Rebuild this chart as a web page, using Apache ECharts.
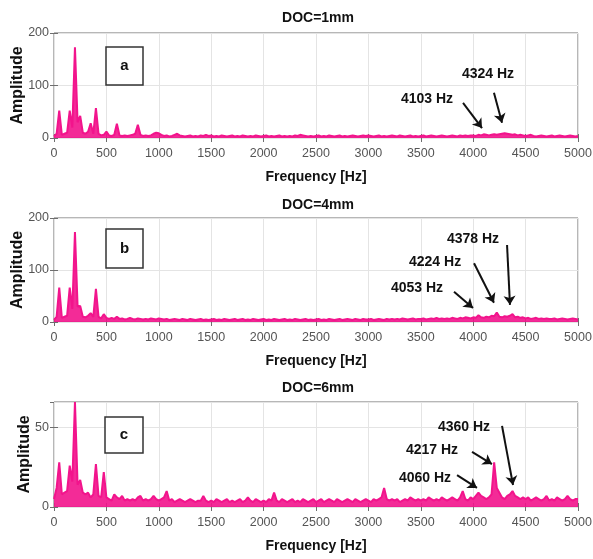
<!DOCTYPE html>
<html>
<head>
<meta charset="utf-8">
<script src="https://cdn.jsdelivr.net/npm/echarts@6/dist/echarts.min.js"></script>
<style>
html,body{margin:0;padding:0;background:#fff;}
#chart{width:593px;height:559px;}
</style>
</head>
<body>
<div id="chart"></div>
<script>
// ---------- DATA ----------
const titles = ['DOC=1mm', 'DOC=4mm', 'DOC=6mm'];
const panelLetters = ['a', 'b', 'c'];
const xTicks = { min: 0, max: 5000, interval: 500 };
const FREQ_STEP = 25; // spectrum bin spacing, Hz (bins 0..5000)

// Amplitude per 25 Hz bin, DOC=1mm (0, 25, 50, ... 5000 Hz)
const ampA = [
  3, 8, 52, 6, 8, 10, 52, 20, 173, 30,
  42, 10, 8, 12, 28, 8, 57, 8, 5, 6,
  12, 5, 4, 6, 27, 5, 4, 5, 4, 5,
  6, 8, 25, 6, 4, 5, 4, 5, 8, 10,
  9, 6, 4, 5, 3, 4, 6, 8, 5, 4,
  3, 4, 5, 3, 4, 3, 5, 4, 6, 4,
  5, 3, 4, 3, 5, 4, 3, 4, 5, 3,
  4, 3, 5, 4, 3, 4, 3, 5, 4, 3,
  4, 5, 3, 4, 3, 4, 5, 3, 4, 3,
  4, 3, 5, 4, 6, 5, 4, 3, 4, 3,
  4, 5, 3, 4, 3, 5, 4, 3, 4, 5,
  3, 4, 3, 4, 5, 4, 3, 4, 5, 4,
  5, 4, 3, 4, 5, 3, 4, 3, 4, 5,
  4, 3, 5, 4, 3, 4, 5, 3, 4, 3,
  4, 5, 3, 4, 5, 4, 3, 4, 5, 4,
  3, 4, 5, 4, 3, 5, 4, 5, 4, 5,
  5, 4, 6, 5, 7, 6, 5, 6, 7, 6,
  7, 8, 9, 8, 7, 6, 7, 5, 6, 5,
  4, 5, 6, 4, 3, 4, 5, 4, 3, 4,
  5, 3, 4, 5, 4, 3, 4, 5, 4, 3,
  4
];

// DOC=4mm
const ampB = [
  4, 10, 66, 8, 10, 12, 66, 25, 173, 30,
  31, 10, 9, 12, 17, 10, 64, 10, 7, 15,
  8, 6, 8, 6, 10, 6, 7, 5, 6, 8,
  6, 5, 7, 6, 5, 6, 5, 7, 6, 5,
  7, 6, 5, 6, 4, 5, 6, 5, 4, 6,
  5, 4, 6, 5, 4, 5, 6, 4, 5, 4,
  5, 6, 4, 5, 4, 6, 5, 4, 5, 6,
  4, 5, 6, 4, 5, 4, 6, 5, 4, 5,
  6, 4, 5, 4, 6, 5, 4, 5, 6, 4,
  5, 4, 6, 5, 4, 5, 6, 4, 5, 4,
  5, 6, 4, 5, 4, 6, 5, 4, 5, 6,
  4, 5, 6, 5, 4, 6, 5, 4, 6, 5,
  5, 6, 4, 5, 6, 5, 4, 6, 5, 6,
  5, 6, 5, 7, 6, 5, 6, 7, 5, 6,
  6, 7, 5, 6, 7, 6, 8, 6, 7, 6,
  7, 6, 8, 7, 6, 8, 7, 9, 8, 7,
  9, 8, 13, 9, 8, 10, 9, 12, 11, 18,
  10, 9, 11, 10, 12, 15, 9, 10, 8, 9,
  7, 8, 6, 7, 8, 6, 7, 6, 7, 6,
  6, 7, 5, 6, 7, 6, 5, 6, 7, 6,
  5
];

// DOC=6mm
const ampC = [
  5, 12, 28, 8, 9, 10, 26, 16, 66, 14,
  17, 9, 8, 9, 6, 8, 27, 7, 6, 22,
  6, 5, 4, 8, 6, 5, 7, 4, 5, 4,
  5, 4, 6, 7, 4, 5, 4, 5, 7, 5,
  4, 5, 6, 10, 4, 5, 3, 4, 5, 4,
  3, 4, 5, 4, 3, 4, 4, 7, 4, 3,
  4, 3, 5, 4, 3, 4, 5, 3, 4, 3,
  4, 5, 3, 4, 6, 4, 3, 5, 4, 3,
  4, 3, 5, 4, 9, 4, 3, 5, 4, 3,
  4, 5, 3, 4, 3, 5, 4, 3, 4, 5,
  3, 4, 5, 3, 4, 5, 4, 3, 5, 4,
  3, 4, 5, 4, 3, 5, 4, 3, 4, 5,
  4, 3, 5, 4, 5, 6, 12, 5, 4, 5,
  4, 5, 3, 4, 5, 4, 6, 5, 4, 5,
  4, 5, 4, 6, 5, 4, 5, 4, 6, 5,
  4, 5, 6, 5, 4, 6, 10, 5, 4, 6,
  5, 7, 9, 7, 6, 5, 6, 8, 28, 12,
  9, 6, 5, 7, 8, 10, 7, 6, 5, 6,
  5, 6, 4, 5, 6, 5, 4, 5, 7, 4,
  5, 4, 6, 5, 4, 5, 7, 5, 4, 5,
  5
];

const yAxisA = { max: 200, interval: 100 };
const yAxisB = { max: 200, interval: 100 };
const yAxisC = { max: 66, interval: 50 };

// Annotations (data coordinates): label position, arrow start, arrow tip
const notesA = [
  { text: '4324 Hz', at: [4141, 122], from: [4198, 86], to: [4275, 29] },
  { text: '4103 Hz', at: [3559, 74], from: [3903, 67], to: [4084, 19] }
];
const notesB = [
  { text: '4378 Hz', at: [3998, 160], from: [4323, 148], to: [4351, 33] },
  { text: '4224 Hz', at: [3636, 115], from: [4008, 113], to: [4198, 37] },
  { text: '4053 Hz', at: [3464, 65], from: [3817, 58], to: [3998, 27] }
];
const notesC = [
  { text: '4360 Hz', at: [3912, 50.3], from: [4275, 51], to: [4380, 13.8] },
  { text: '4217 Hz', at: [3607, 35.8], from: [3989, 34.6], to: [4179, 27] },
  { text: '4060 Hz', at: [3540, 18.2], from: [3846, 20], to: [4036, 12] }
];

// ---------- LAYOUT / STYLE ----------
const FONT = '"Liberation Sans", Arial, Helvetica, sans-serif';
const LINE_COLOR = '#f2148c';
const GRID_LEFT = 54, GRID_WIDTH = 524;
const layout = [
  { top: 33, height: 105, titleTop: 11, box: [106, 47, 37, 38], yNameGap: 28 },
  { top: 218, height: 104, titleTop: 198, box: [106, 229, 37, 39], yNameGap: 28 },
  { top: 402, height: 105, titleTop: 381, box: [105, 417, 38, 36], yNameGap: 21 }
];

const panels = [
  { amp: ampA, y: yAxisA, notes: notesA },
  { amp: ampB, y: yAxisB, notes: notesB },
  { amp: ampC, y: yAxisC, notes: notesC }
];

const plain = v => String(v);
const grids = [], xAxes = [], yAxes = [], series = [], titleOpts = [], graphics = [];

panels.forEach((p, i) => {
  const L = layout[i];
  grids.push({
    left: GRID_LEFT, top: L.top, width: GRID_WIDTH, height: L.height,
    containLabel: false, outerBoundsMode: 'none',
    show: true, borderColor: '#6e6e6e', borderWidth: 1, backgroundColor: '#fff'
  });
  // bottom x axis
  xAxes.push({
    gridIndex: i, type: 'value', position: 'bottom',
    min: xTicks.min, max: xTicks.max, interval: xTicks.interval,
    name: 'Frequency [Hz]', nameLocation: 'middle', nameGap: 32, nameMoveOverlap: false,
    nameTextStyle: { fontFamily: FONT, fontWeight: 'bold', fontSize: 14, color: '#111' },
    axisLine: { show: false },
    axisTick: { show: true, inside: true, length: 4, lineStyle: { color: '#6e6e6e' } },
    axisLabel: { fontFamily: FONT, fontSize: 12.5, color: '#555', margin: 9, formatter: plain },
    splitLine: { show: true, lineStyle: { color: '#e4e4e4', width: 1 } }
  });
  // top x axis (ticks only)
  xAxes.push({
    gridIndex: i, type: 'value', position: 'top',
    min: xTicks.min, max: xTicks.max, interval: xTicks.interval,
    axisLine: { show: false },
    axisTick: { show: true, inside: true, length: 4, lineStyle: { color: '#6e6e6e' } },
    axisLabel: { show: false }, splitLine: { show: false }
  });
  yAxes.push({
    gridIndex: i, type: 'value', position: 'left',
    min: 0, max: p.y.max, interval: p.y.interval,
    name: 'Amplitude', nameLocation: 'middle', nameGap: L.yNameGap, nameMoveOverlap: false,
    nameTextStyle: { fontFamily: FONT, fontWeight: 'bold', fontSize: 16, color: '#111' },
    axisLine: { show: false },
    axisTick: { show: true, inside: true, length: 4, lineStyle: { color: '#6e6e6e' } },
    axisLabel: { fontFamily: FONT, fontSize: 12.5, color: '#555', margin: 5, formatter: plain,
                 showMaxLabel: p.y.max % p.y.interval === 0 },
    splitLine: { show: true, lineStyle: { color: '#e4e4e4', width: 1 } }
  });
  yAxes.push({
    gridIndex: i, type: 'value', position: 'right',
    min: 0, max: p.y.max, interval: p.y.interval,
    axisLine: { show: false },
    axisTick: { show: true, inside: true, length: 4, lineStyle: { color: '#6e6e6e' } },
    axisLabel: { show: false }, splitLine: { show: false }
  });

  const data = p.amp.map((a, k) => [k * FREQ_STEP, a]);
  series.push({
    type: 'line', xAxisIndex: 2 * i, yAxisIndex: 2 * i,
    data: data, showSymbol: false, symbol: 'none', sampling: false,
    lineStyle: { color: LINE_COLOR, width: 2 },
    areaStyle: { color: LINE_COLOR, opacity: 0.9 },
    itemStyle: { color: LINE_COLOR },
    silent: true, animation: false, clip: true,
    markLine: {
      silent: true, animation: false,
      symbol: ['none', 'arrow'], symbolSize: 9,
      label: { show: false },
      lineStyle: { color: '#111', width: 2, type: 'solid' },
      emphasis: { disabled: true },
      data: p.notes.map(n => [{ coord: n.from }, { coord: n.to }])
    },
    markPoint: {
      silent: true, animation: false,
      symbol: 'circle', symbolSize: 0,
      itemStyle: { color: 'rgba(0,0,0,0)' },
      label: {
        show: true, position: 'inside', formatter: '{b}',
        fontFamily: FONT, fontWeight: 'bold', fontSize: 14, color: '#111'
      },
      data: p.notes.map(n => ({ name: n.text, coord: n.at }))
    }
  });

  titleOpts.push({
    text: titles[i], left: GRID_LEFT + GRID_WIDTH / 2 + 2, top: L.titleTop, textAlign: 'center', padding: 0,
    textStyle: { fontFamily: FONT, fontWeight: 'bold', fontSize: 14, color: '#111' }
  });

  const b = L.box;
  graphics.push({
    type: 'rect', z: 100,
    shape: { x: b[0], y: b[1], width: b[2], height: b[3] },
    style: { fill: '#fff', stroke: '#333', lineWidth: 1.5 }
  });
  graphics.push({
    type: 'text', z: 101,
    x: b[0] + b[2] / 2, y: b[1] + b[3] / 2,
    style: {
      text: panelLetters[i], fill: '#111',
      font: 'bold 15px ' + FONT,
      textAlign: 'center', textVerticalAlign: 'middle'
    }
  });
});

const chart = echarts.init(document.getElementById('chart'), null, { renderer: 'canvas' });
chart.setOption({
  backgroundColor: '#fff',
  animation: false,
  title: titleOpts,
  grid: grids,
  xAxis: xAxes,
  yAxis: yAxes,
  series: series,
  graphic: graphics
});
</script>
</body>
</html>
